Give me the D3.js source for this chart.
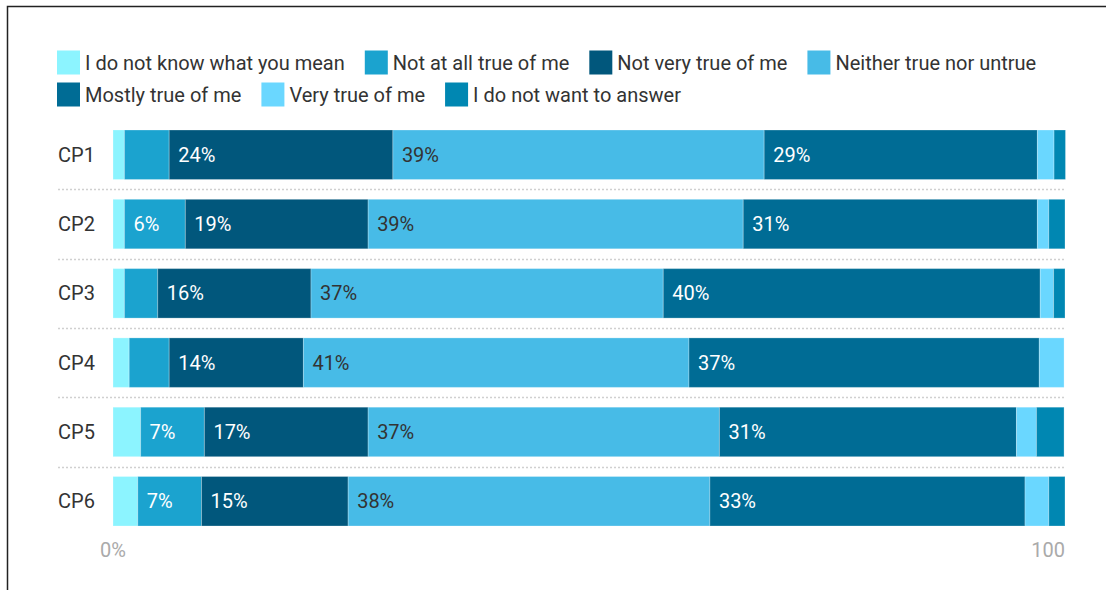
<!DOCTYPE html>
<html>
<head>
<meta charset="utf-8">
<script src="https://cdn.jsdelivr.net/npm/d3@7"></script>
<style>
  html, body { margin: 0; padding: 0; background: #fff; }
  svg { display: block; font-family: Roboto, "Noto Sans", sans-serif; }
</style>
</head>
<body>
<svg id="chart" width="1106" height="590"></svg>
<script>
// ---- data ----
const categories = ["CP1", "CP2", "CP3", "CP4", "CP5", "CP6"];
const seriesNames = [
  "I do not know what you mean",
  "Not at all true of me",
  "Not very true of me",
  "Neither true nor untrue",
  "Mostly true of me",
  "Very true of me",
  "I do not want to answer"
];
const dontKnow  = [1.2, 1.2, 1.2, 1.7, 2.9, 2.6];
const notAtAll  = [4.7, 6.4, 3.5, 4.2, 6.7, 6.7];
const notVery   = [23.5, 19.2, 16.1, 14.1, 17.2, 15.4];
const neither   = [39.0, 39.4, 37.0, 40.5, 36.9, 38.0];
const mostly    = [28.7, 30.9, 39.6, 36.8, 31.2, 33.1];
const veryTrue  = [1.75, 1.2, 1.4, 2.6, 2.1, 2.5];
const noAnswer  = [1.2, 1.7, 1.2, 0, 2.9, 1.7];
const xTickLabels = ["0%", "100"];

const seriesValues = [dontKnow, notAtAll, notVery, neither, mostly, veryTrue, noAnswer];
const colors = ["#8cf4ff", "#1ba3cf", "#01577c", "#47bbe7", "#006c95", "#6ad7ff", "#0087b2"];
const labelColors = ["#333", "#fff", "#fff", "#333", "#fff", "#333", "#fff"];

// ---- build table ----
const table = categories.map((c, i) => {
  const row = { cat: c };
  seriesNames.forEach((s, j) => row[s] = seriesValues[j][i]);
  return row;
});
const stacked = d3.stack().keys(seriesNames)(table);

const svg = d3.select("#chart");

// frame
svg.append("rect")
  .attr("x", 7.5).attr("y", 6.5)
  .attr("width", 1200).attr("height", 700)
  .attr("fill", "none").attr("stroke", "#222").attr("stroke-width", 1.5);

const x = d3.scaleLinear().domain([0, 100]).range([113, 1065]);
const y = d3.scaleBand().domain(categories).range([120.1, 535.9])
  .paddingInner(0.286).paddingOuter(0.143);

// separators
const sepYs = categories.slice(0, -1).map(c => y(c) + y.bandwidth() + y.step() * y.paddingInner() / 2);
svg.append("g").selectAll("line").data(sepYs).join("line")
  .attr("x1", 58).attr("x2", 1065)
  .attr("y1", d => Math.round(d) + 0.5).attr("y2", d => Math.round(d) + 0.5)
  .attr("stroke", "#d0d0d0").attr("stroke-width", 1.5)
  .attr("stroke-dasharray", "2,2");

// bars
const layers = svg.append("g").selectAll("g").data(stacked).join("g")
  .attr("fill", (d, i) => colors[i]);
layers.selectAll("rect").data(d => d).join("rect")
  .attr("x", d => x(d[0]))
  .attr("y", d => y(d.data.cat))
  .attr("width", d => Math.max(0, x(d[1]) - x(d[0])))
  .attr("height", y.bandwidth())
  .attr("stroke", "rgba(255,255,255,0.25)")
  .attr("stroke-width", 1);

// value labels
stacked.forEach((layer, i) => {
  svg.append("g").selectAll("text")
    .data(layer.filter(d => (d[1] - d[0]) >= 5))
    .join("text")
    .attr("x", d => x(d[0]) + 9)
    .attr("y", d => y(d.data.cat) + y.bandwidth() / 2)
    .attr("dy", "0.35em")
    .attr("fill", labelColors[i])
    .attr("font-size", 20)
    .text(d => Math.round(d[1] - d[0]) + "%");
});

// category labels
svg.append("g").selectAll("text").data(categories).join("text")
  .attr("x", 58)
  .attr("y", d => y(d) + y.bandwidth() / 2)
  .attr("dy", "0.35em")
  .attr("fill", "#333")
  .attr("font-size", 20)
  .text(d => d);

// x axis labels
svg.append("text").attr("x", x(0)).attr("y", 550).attr("dy", "0.35em")
  .attr("text-anchor", "middle").attr("fill", "#aaa").attr("font-size", 20)
  .text(xTickLabels[0]);
svg.append("text").attr("x", x(100)).attr("y", 550).attr("dy", "0.35em")
  .attr("text-anchor", "end").attr("fill", "#aaa").attr("font-size", 20)
  .text(xTickLabels[1]);

// legend
const legendRows = [[0, 1, 2, 3], [4, 5, 6]];
const rowY = [62.5, 94.5];
legendRows.forEach((row, r) => {
  let cx = 57;
  row.forEach(idx => {
    const g = svg.append("g");
    g.append("rect").attr("x", cx).attr("y", rowY[r] - 12)
      .attr("width", 23).attr("height", 24).attr("fill", colors[idx]);
    const t = g.append("text").attr("x", cx + 28).attr("y", rowY[r]).attr("dy", "0.35em")
      .attr("fill", "#333").attr("font-size", 20).text(seriesNames[idx]);
    const w = t.node().getComputedTextLength();
    cx = cx + 28 + w + 20;
  });
});
</script>
</body>
</html>
